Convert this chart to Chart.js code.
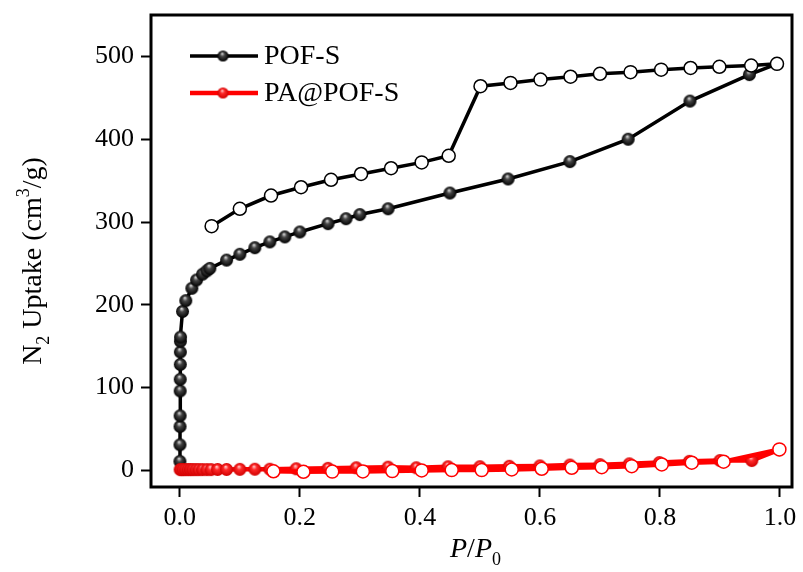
<!DOCTYPE html>
<html>
<head>
<meta charset="utf-8">
<script src="https://cdn.jsdelivr.net/npm/chart.js@4"></script>
<style>
  html, body { margin: 0; padding: 0; background: #fff; }
  canvas { display: block; }
</style>
</head>
<body>
<canvas id="isotherm" width="803" height="572"></canvas>
<script>
// POF-S adsorption branch
const pofAdsP = [0.0002, 0.0003, 0.0004, 0.0005, 0.0006, 0.0007, 0.0008, 0.0009, 0.0010, 0.0012,
  0.0045, 0.010, 0.020, 0.028, 0.038, 0.045, 0.050, 0.078, 0.100, 0.125, 0.150, 0.175, 0.200,
  0.247, 0.277, 0.300, 0.347, 0.450, 0.547, 0.650, 0.747, 0.850, 0.949, 0.995];
const pofAdsV = [11, 31, 53, 66, 96, 110, 128, 143, 156, 161,
  192, 205, 220, 230, 237, 241, 244, 254, 261, 269, 276, 282, 288,
  298, 304, 309, 316, 335, 352, 373, 400, 446, 478, 491];

// POF-S desorption branch
const pofDesP = [0.995, 0.952, 0.899, 0.851, 0.802, 0.751, 0.700, 0.651, 0.601, 0.551, 0.501,
  0.448, 0.403, 0.352, 0.302, 0.252, 0.202, 0.152, 0.100, 0.053];
const pofDesV = [491, 489, 487.5, 486, 484, 481, 479, 475.5, 472, 468, 464,
  380, 372, 365, 358, 351, 342, 332, 316, 295];

// PA@POF-S adsorption branch
const paAdsP = [0.0005, 0.003, 0.006, 0.010, 0.014, 0.018, 0.022, 0.027, 0.032, 0.038, 0.045, 0.052,
  0.063, 0.078, 0.100, 0.125, 0.150, 0.194, 0.247, 0.294, 0.347, 0.394, 0.447,
  0.500, 0.549, 0.600, 0.650, 0.700, 0.749, 0.799, 0.849, 0.900, 0.953, 0.999];
const paAdsV = [1, 1, 1, 1, 1, 1, 1, 1, 1, 1, 1, 1,
  1.2, 1.2, 1.3, 1.5, 1.5, 2, 2.5, 3.2, 4, 3.2, 4.4,
  4.5, 5, 5.5, 6.5, 7, 8, 9.5, 11, 12, 12, 25];

// PA@POF-S desorption branch
const paDesP = [0.999, 0.906, 0.853, 0.803, 0.753, 0.703, 0.653, 0.603, 0.553, 0.503,
  0.453, 0.403, 0.354, 0.305, 0.254, 0.206, 0.156];
const paDesV = [25.4, 10.5, 9.3, 7.2, 5.2, 4, 3.2, 2, 1.2, 0.4,
  0.4, 0, -0.8, -1.2, -1.4, -1.6, -1];

const xTicks = [0, 0.2, 0.4, 0.6, 0.8, 1.0];
const yTicks = [0, 100, 200, 300, 400, 500];

const seriesNames = ['POF-S', 'PA@POF-S'];

const toPoints = (xs, ys) => xs.map((x, i) => ({ x: x, y: ys[i] }));

// shaded ball used for the filled (adsorption) markers
function ball(r, light, mid, dark) {
  const c = document.createElement('canvas');
  c.width = c.height = 2 * r + 2;
  const g = c.getContext('2d');
  const cx = r + 1, cy = r + 1;
  const grad = g.createRadialGradient(cx - r * 0.15, cy - r * 0.45, r * 0.05, cx, cy, r);
  grad.addColorStop(0, light);
  grad.addColorStop(0.35, mid);
  grad.addColorStop(1, dark);
  g.fillStyle = grad;
  g.beginPath();
  g.arc(cx, cy, r, 0, Math.PI * 2);
  g.fill();
  return c;
}

const blackBall = ball(6.5, '#d8d8d8', '#454545', '#000000');
const redBall = ball(6.5, '#ffc8c8', '#ff2a2a', '#d00000');
const blackBallSmall = ball(5.5, '#d8d8d8', '#454545', '#000000');
const redBallSmall = ball(5.5, '#ffc8c8', '#ff2a2a', '#d00000');

const SERIF = "'Liberation Serif', 'Times New Roman', serif";

// frame around the plot area
const framePlugin = {
  id: 'frame',
  beforeDatasetsDraw(chart) {
    const { ctx, chartArea: a } = chart;
    ctx.save();
    ctx.strokeStyle = '#000';
    ctx.lineWidth = 3;
    ctx.strokeRect(a.left, a.top, a.right - a.left, a.bottom - a.top);
    ctx.restore();
  }
};

// axis titles with sub/superscripts, plus the legend
const labelsPlugin = {
  id: 'labels',
  afterDraw(chart) {
    const { ctx, chartArea: a } = chart;
    ctx.save();
    ctx.fillStyle = '#000';
    ctx.textBaseline = 'alphabetic';

    // y title, rotated
    const big = `28px ${SERIF}`;
    const small = `18px ${SERIF}`;
    const parts = [
      ['N', big, 0], ['2', small, 8], [' Uptake (cm', big, 0], ['3', small, -12], ['/g)', big, 0]
    ];
    let total = 0;
    parts.forEach(p => { ctx.font = p[1]; total += ctx.measureText(p[0]).width; });
    ctx.translate(41, 261);
    ctx.rotate(-Math.PI / 2);
    let px = -total / 2;
    parts.forEach(p => {
      ctx.font = p[1];
      ctx.fillText(p[0], px, p[2]);
      px += ctx.measureText(p[0]).width;
    });
    ctx.setTransform(1, 0, 0, 1, 0, 0);

    // x title
    const xparts = [
      ['P', `italic 28px ${SERIF}`, 0], ['/', big, 0], ['P', `italic 28px ${SERIF}`, 0], ['0', small, 8]
    ];
    total = 0;
    xparts.forEach(p => { ctx.font = p[1]; total += ctx.measureText(p[0]).width; });
    px = (a.left + a.right) / 2 - total / 2 + 4;
    xparts.forEach(p => {
      ctx.font = p[1];
      ctx.fillText(p[0], px, 557 + p[2]);
      px += ctx.measureText(p[0]).width;
    });

    // legend
    const items = [
      { name: seriesNames[0], color: '#000', img: blackBallSmall, y: a.top + 41, w: 3.5 },
      { name: seriesNames[1], color: '#ff0000', img: redBallSmall, y: a.top + 78, w: 4.5 }
    ];
    items.forEach(it => {
      ctx.strokeStyle = it.color;
      ctx.lineWidth = it.w;
      ctx.beginPath();
      ctx.moveTo(a.left + 39, it.y);
      ctx.lineTo(a.left + 107, it.y);
      ctx.stroke();
      ctx.drawImage(it.img, a.left + 72 - it.img.width / 2, it.y - it.img.height / 2);
      ctx.font = `28px ${SERIF}`;
      ctx.textBaseline = 'middle';
      ctx.fillText(it.name, a.left + 113, it.y + 1);
    });
    ctx.restore();
  }
};

const ctx = document.getElementById('isotherm').getContext('2d');
new Chart(ctx, {
  type: 'scatter',
  data: {
    datasets: [
      {
        label: 'PA@POF-S desorption',
        data: toPoints(paDesP, paDesV),
        showLine: true,
        borderColor: '#ff0000',
        borderWidth: 4.5,
        pointStyle: 'circle',
        pointRadius: 6.5,
        pointBackgroundColor: '#fff',
        pointBorderColor: '#ff0000',
        pointBorderWidth: 1.5
      },
      {
        label: 'PA@POF-S adsorption',
        data: toPoints(paAdsP, paAdsV),
        showLine: true,
        borderColor: '#ff0000',
        borderWidth: 4.5,
        pointStyle: redBall
      },
      {
        label: 'POF-S desorption',
        data: toPoints(pofDesP, pofDesV),
        showLine: true,
        borderColor: '#000',
        borderWidth: 3.5,
        pointStyle: 'circle',
        pointRadius: 6.5,
        pointBackgroundColor: '#fff',
        pointBorderColor: '#000',
        pointBorderWidth: 1.5
      },
      {
        label: 'POF-S adsorption',
        data: toPoints(pofAdsP, pofAdsV),
        showLine: true,
        borderColor: '#000',
        borderWidth: 3.5,
        pointStyle: blackBall
      }
    ]
  },
  options: {
    responsive: false,
    animation: false,
    layout: { padding: { left: 0, right: 11, top: 15, bottom: 0 } },
    plugins: {
      legend: { display: false },
      tooltip: { enabled: false }
    },
    scales: {
      x: {
        type: 'linear',
        min: -0.048,
        max: 1.02,
        afterBuildTicks: s => { s.ticks = xTicks.map(v => ({ value: v })); },
        afterFit: s => { s.height = 85; s.paddingLeft = 0; s.paddingRight = 0; },
        border: { display: false },
        grid: { drawOnChartArea: false, drawTicks: true, tickLength: 10, tickWidth: 2, color: '#000' },
        ticks: {
          color: '#000',
          padding: 6,
          maxRotation: 0,
          font: { family: SERIF, size: 26 },
          callback: v => v.toFixed(1)
        }
      },
      y: {
        type: 'linear',
        min: -20,
        max: 550,
        afterBuildTicks: s => { s.ticks = yTicks.map(v => ({ value: v })); },
        afterFit: s => { s.width = 151; s.paddingTop = 0; s.paddingBottom = 0; },
        border: { display: false },
        grid: { drawOnChartArea: false, drawTicks: true, tickLength: 10, tickWidth: 2, color: '#000' },
        ticks: {
          color: '#000',
          padding: 7,
          font: { family: SERIF, size: 26 },
          callback: v => String(v)
        }
      }
    }
  },
  plugins: [framePlugin, labelsPlugin]
});
</script>
</body>
</html>
